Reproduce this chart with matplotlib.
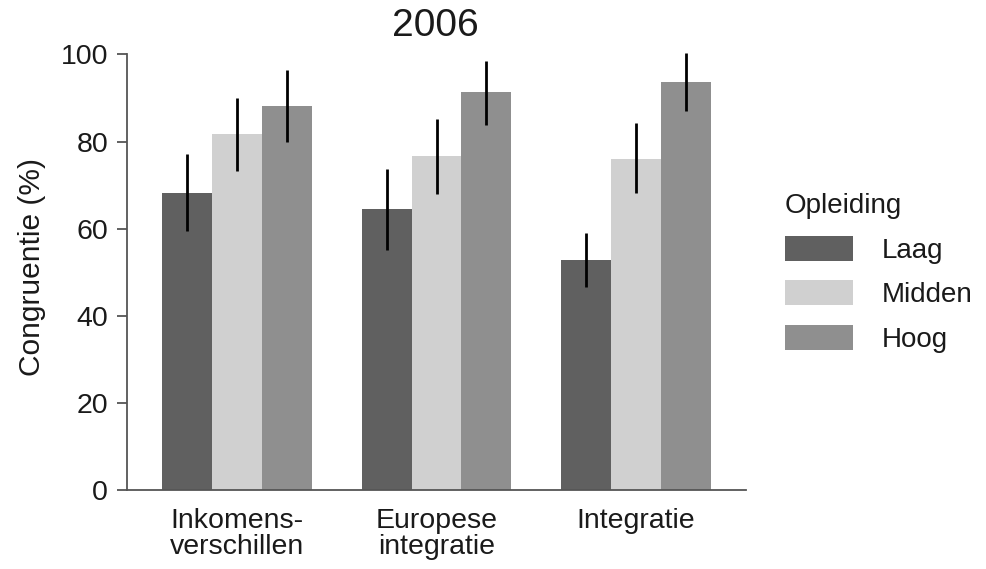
import numpy as np
import matplotlib.pyplot as plt
from matplotlib.patches import Patch

plt.rcParams['font.family'] = ['Liberation Sans', 'DejaVu Sans']

# data
topics = ["Inkomens-\nverschillen", "Europese\nintegratie", "Integratie"]
levels = ["Laag", "Midden", "Hoog"]
laag = [68.2, 64.5, 52.8]
midden = [81.7, 76.6, 76.0]
hoog = [88.1, 91.3, 93.7]
laag_lo = [59.5, 55.1, 46.5]
laag_hi = [77.1, 73.7, 58.9]
midden_lo = [73.2, 67.9, 68.2]
midden_hi = [90.0, 85.1, 84.2]
hoog_lo = [79.8, 83.9, 86.9]
hoog_hi = [96.5, 98.5, 100.4]
yticks = [0, 20, 40, 60, 80, 100]

colors = ["#606060", "#d0d0d0", "#8f8f8f"]
txt = "#1a1a1a"
axcol = "#555555"

fig = plt.figure(figsize=(9.86, 5.69), dpi=100)
ax = fig.add_axes([127 / 986, 1 - 490 / 569, (746 - 127) / 986, 453 / 569])

x = np.arange(1, len(topics) + 1)
w = 0.25
series = [(laag, laag_lo, laag_hi), (midden, midden_lo, midden_hi), (hoog, hoog_lo, hoog_hi)]
for i, (vals, lo, hi) in enumerate(series):
    xs = x + (i - 1) * w
    ax.bar(xs, vals, width=w, color=colors[i], edgecolor="none", zorder=2)
    ax.vlines(xs, lo, hi, color="black", linewidth=2.0, zorder=3)

ax.set_xlim(0.45, 3.55)
ax.set_ylim(0, 104)
ax.set_yticks(yticks)
ax.set_xticks(x)
ax.set_xticklabels(topics, fontsize=20.5, color=txt, linespacing=0.98)
ax.tick_params(axis="y", labelsize=20.5, labelcolor=txt, length=7.5, width=1.3, color=axcol, pad=6)
ax.tick_params(axis="x", length=0, pad=13)

for s in ["top", "right"]:
    ax.spines[s].set_visible(False)
ax.spines["left"].set_bounds(0, 100)
for s in ["left", "bottom"]:
    ax.spines[s].set_color(axcol)
    ax.spines[s].set_linewidth(1.3)

fig.text(435 / 986, 1 - 26 / 569, "2006", fontsize=28, color=txt, ha="center", va="center")
fig.text(32 / 986, 1 - 267 / 569, "Congruentie (%)", fontsize=21.5, color=txt,
         rotation=90, ha="center", va="center")

handles = [Patch(facecolor=c, edgecolor="none") for c in colors]
leg = fig.legend(handles, levels, loc="upper left", bbox_to_anchor=(785 / 986, 1 - 193 / 569),
                 frameon=False, fontsize=20, title="Opleiding", title_fontsize=20,
                 alignment="left", handlelength=2.45, handleheight=1.0,
                 handletextpad=1.05, labelspacing=0.6, borderpad=0, borderaxespad=0)
for t in leg.get_texts():
    t.set_color(txt)
leg.get_title().set_color(txt)

fig.savefig("out.png", dpi=100)
